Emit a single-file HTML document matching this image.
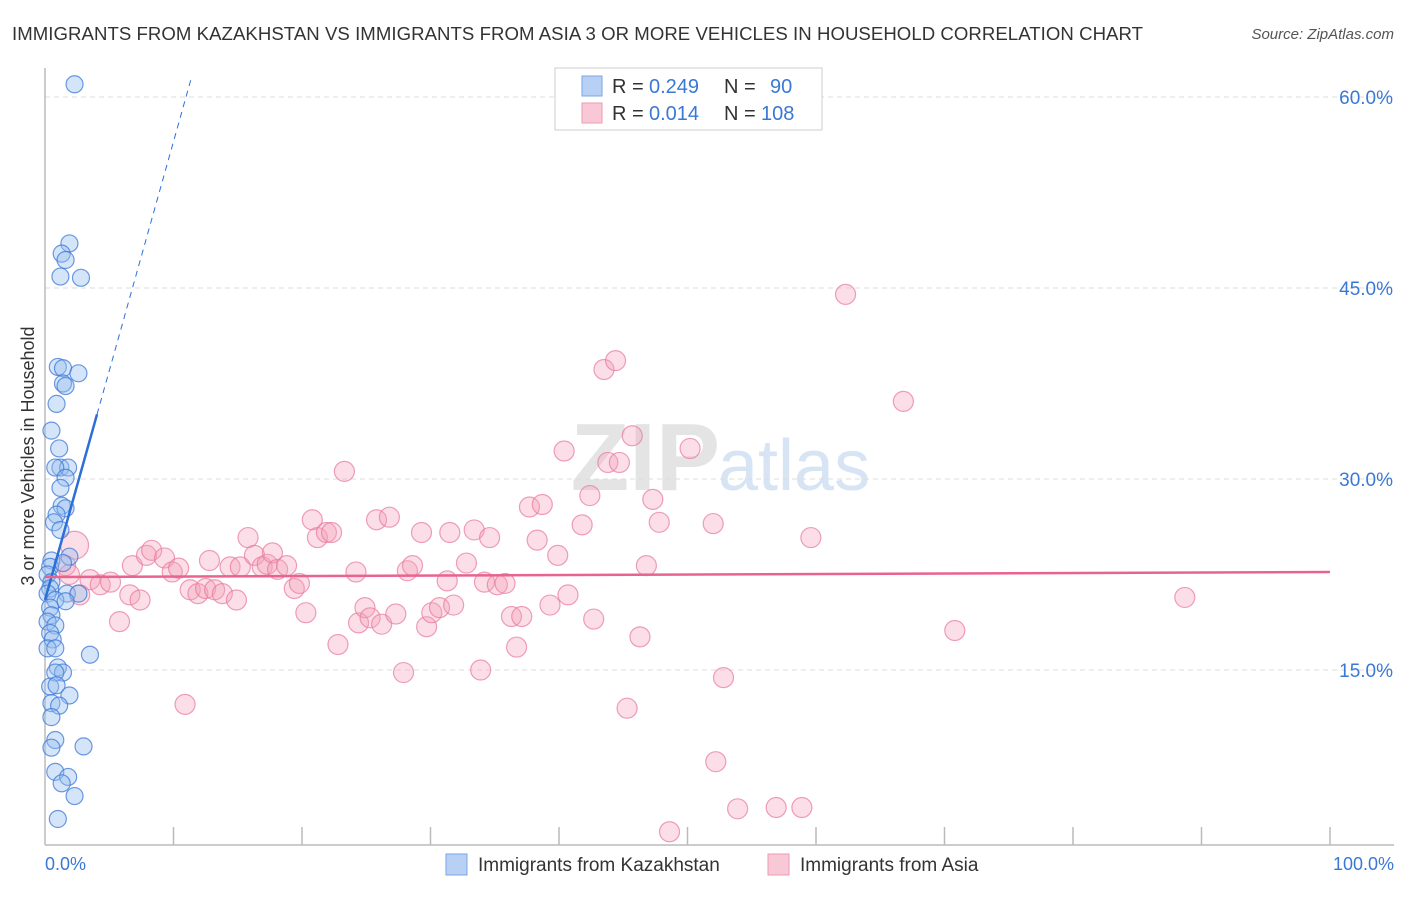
<!DOCTYPE html>
<html><head><meta charset="utf-8"><style>
body{margin:0;background:#fff;font-family:"Liberation Sans",sans-serif;}
svg text{font-family:"Liberation Sans",sans-serif;}
</style></head><body>
<svg width="1406" height="892">
<text x="12" y="40" font-size="18.6" fill="#333" textLength="1131" lengthAdjust="spacing">IMMIGRANTS FROM KAZAKHSTAN VS IMMIGRANTS FROM ASIA 3 OR MORE VEHICLES IN HOUSEHOLD CORRELATION CHART</text>
<text x="1394" y="39" font-size="15" fill="#555" text-anchor="end" font-style="italic">Source: ZipAtlas.com</text>
<text x="720" y="490" font-size="96" fill="#e4e4e4" text-anchor="end" font-family="Liberation Serif" font-weight="bold">ZIP</text>
<text x="718" y="490" font-size="72" fill="#d6e4f4">atlas</text>
<g id="grid"></g>
<line x1="45" y1="68" x2="45" y2="845" stroke="#bbb" stroke-width="1.5"/>
<line x1="45" y1="845" x2="1394" y2="845" stroke="#bbb" stroke-width="1.5"/>
<text transform="translate(34,456) rotate(-90)" font-size="18" fill="#333" text-anchor="middle">3 or more Vehicles in Household</text>
<text x="45" y="870" font-size="18" fill="#3a78d6">0.0%</text>
<text x="1394" y="870" font-size="18" fill="#3a78d6" text-anchor="end">100.0%</text>
<g id="pts"></g>
<g id="lines"></g>
<g>
<rect x="555" y="68" width="267" height="62" fill="#fff" stroke="#ccc"/>
<rect x="582" y="76" width="20" height="20" fill="#b8d0f4" stroke="#7aa6e6"/>
<rect x="582" y="103" width="20" height="20" fill="#f9c8d6" stroke="#ec9ab4"/>
<text x="612" y="93" font-size="20" fill="#333">R =</text>
<text x="649" y="93" font-size="20" fill="#3a78d6">0.249</text>
<text x="724" y="93" font-size="20" fill="#333">N =</text>
<text x="770" y="93" font-size="20" fill="#3a78d6">90</text>
<text x="612" y="120" font-size="20" fill="#333">R =</text>
<text x="649" y="120" font-size="20" fill="#3a78d6">0.014</text>
<text x="724" y="120" font-size="20" fill="#333">N =</text>
<text x="761" y="120" font-size="20" fill="#3a78d6">108</text>
</g>
<g>
<rect x="446" y="854" width="21" height="21" fill="#b8d0f4" stroke="#7aa6e6"/>
<text x="478" y="871" font-size="19" fill="#333">Immigrants from Kazakhstan</text></g>
<g>
<rect x="768" y="854" width="21" height="21" fill="#f9c8d6" stroke="#ec9ab4"/>
<text x="800" y="871" font-size="19" fill="#333">Immigrants from Asia</text></g>
</svg>
<script>
const blueX=[2.3,1.9,1.3,1.6,1.2,2.8,1.0,1.4,2.6,1.4,1.6,0.9,0.5,1.1,1.2,1.8,0.8,1.6,1.2,1.3,1.6,0.9,0.7,1.2,1.9,0.5,0.4,1.4,0.2,0.5,0.4,0.2,1.7,2.6,0.8,1.6,0.4,0.5,0.2,0.8,0.4,0.6,0.2,0.8,3.5,1.0,1.4,0.8,0.4,0.9,1.9,0.5,1.1,0.5,0.8,0.5,3.0,0.8,1.8,1.3,2.3,1.0];
const blueY=[61.0,48.5,47.7,47.2,45.9,45.8,38.8,38.7,38.3,37.5,37.3,35.9,33.8,32.4,30.9,30.9,30.9,30.1,29.3,27.9,27.7,27.2,26.6,26.0,23.9,23.6,23.1,23.4,22.5,21.9,21.4,21.0,21.0,21.0,20.5,20.4,19.9,19.3,18.8,18.5,17.9,17.4,16.7,16.7,16.2,15.2,14.8,14.8,13.7,13.8,13.0,12.4,12.2,11.3,9.5,8.9,9.0,7.0,6.6,6.1,5.1,3.3];
const pinkX=[2.3,1.6,1.9,3.5,2.7,4.3,5.1,5.8,6.6,7.4,6.8,7.9,8.3,9.3,9.9,10.4,10.9,11.3,11.9,12.5,12.8,13.2,13.8,14.4,14.9,15.2,15.8,16.3,16.9,17.3,17.7,18.1,18.8,19.4,19.8,20.3,20.8,21.2,21.9,22.3,22.8,23.3,24.2,24.4,24.9,25.3,25.8,26.2,26.8,27.3,27.9,28.2,28.6,29.3,29.7,30.1,30.7,31.3,31.5,31.8,32.8,33.4,33.9,34.2,34.6,35.2,35.8,36.3,36.7,37.1,37.7,38.3,38.7,39.3,39.9,40.4,40.7,41.8,42.4,42.7,43.5,43.8,44.4,44.7,45.3,45.7,46.3,46.8,47.3,47.8,48.6,50.2,52.0,52.2,52.8,53.9,56.9,58.9,59.6,62.3,66.8,70.8,88.7];
const pinkY=[24.8,23.2,22.5,22.1,20.9,21.7,21.9,18.8,20.9,20.5,23.2,24.0,24.4,23.8,22.7,23.0,12.3,21.3,21.0,21.4,23.6,21.3,21.0,23.1,20.5,23.1,25.4,24.0,23.1,23.3,24.2,22.9,23.2,21.4,21.8,19.5,26.8,25.4,25.8,25.8,17.0,30.6,22.7,18.7,19.9,19.1,26.8,18.6,27.0,19.4,14.8,22.8,23.2,25.8,18.4,19.5,19.9,22.0,25.8,20.1,23.4,26.0,15.0,21.9,25.4,21.7,21.8,19.2,16.8,19.2,27.8,25.2,28.0,20.1,24.0,32.2,20.9,26.4,28.7,19.0,38.6,31.3,39.3,31.3,12.0,33.4,17.6,23.2,28.4,26.6,2.3,32.4,26.5,7.8,14.4,4.1,4.2,4.2,25.4,44.5,36.1,18.1,20.7];
const yTicks=[15,30,45,60];
const xTicks=[0,10,20,30,40,50,60,70,80,90,100];
const blueTrend=[20.5,3.6];
const pinkTrend=[22.3,0.004];
const X=v=>45+v*12.85, Y=v=>861-v*12.733;
const NS='http://www.w3.org/2000/svg';
function mk(t,a,p){const e=document.createElementNS(NS,t);for(const k in a)e.setAttribute(k,a[k]);p.appendChild(e);return e;}
const grid=document.getElementById('grid');
yTicks.forEach(t=>{
 const l=mk('line',{x1:45,x2:1394,y1:Y(t),y2:Y(t),stroke:'#ddd','stroke-dasharray':'5,4'},grid);
 
 
 const tx=mk('text',{x:1393,y:Y(t)+7,'font-size':19,fill:'#3a78d6','text-anchor':'end'},grid);
 tx.textContent=t.toFixed(1)+'%';
 
 
});
xTicks.slice(1).forEach(t=>{
 const l=mk('line',{x1:X(t),x2:X(t),y1:827,y2:845,stroke:'#bbb','stroke-width':1.5},grid);
 
 
});
const pts=document.getElementById('pts');
pinkX.forEach((x,i)=>{
 const c=mk('circle',{cx:X(x),cy:Y(pinkY[i]),r:i===0?14:10,fill:'rgba(244,160,185,0.35)',stroke:'rgba(232,120,155,0.7)','stroke-width':1.2},pts);
 
 
});
blueX.forEach((x,i)=>{
 const c=mk('circle',{cx:X(x),cy:Y(blueY[i]),r:8.5,fill:'rgba(150,190,240,0.4)',stroke:'rgba(60,120,215,0.75)','stroke-width':1.2},pts);
 
 
});
const lines=document.getElementById('lines');
const bt=x=>blueTrend[0]+blueTrend[1]*x, pt=x=>pinkTrend[0]+pinkTrend[1]*x;
let l1=mk('line',{x1:X(0),y1:Y(bt(0)),x2:X(4.05),y2:Y(bt(4.05)),stroke:'#2d6fd6','stroke-width':2.5},lines);


let l2=mk('line',{x1:X(4.05),y1:Y(bt(4.05)),x2:X(11.4),y2:Y(bt(11.4)),stroke:'#2d6fd6','stroke-width':1,'stroke-dasharray':'6,5'},lines);


let l3=mk('line',{x1:X(0),y1:Y(pt(0)),x2:X(100),y2:Y(pt(100)),stroke:'#e8648f','stroke-width':2.5},lines);


</script>
</body></html>
